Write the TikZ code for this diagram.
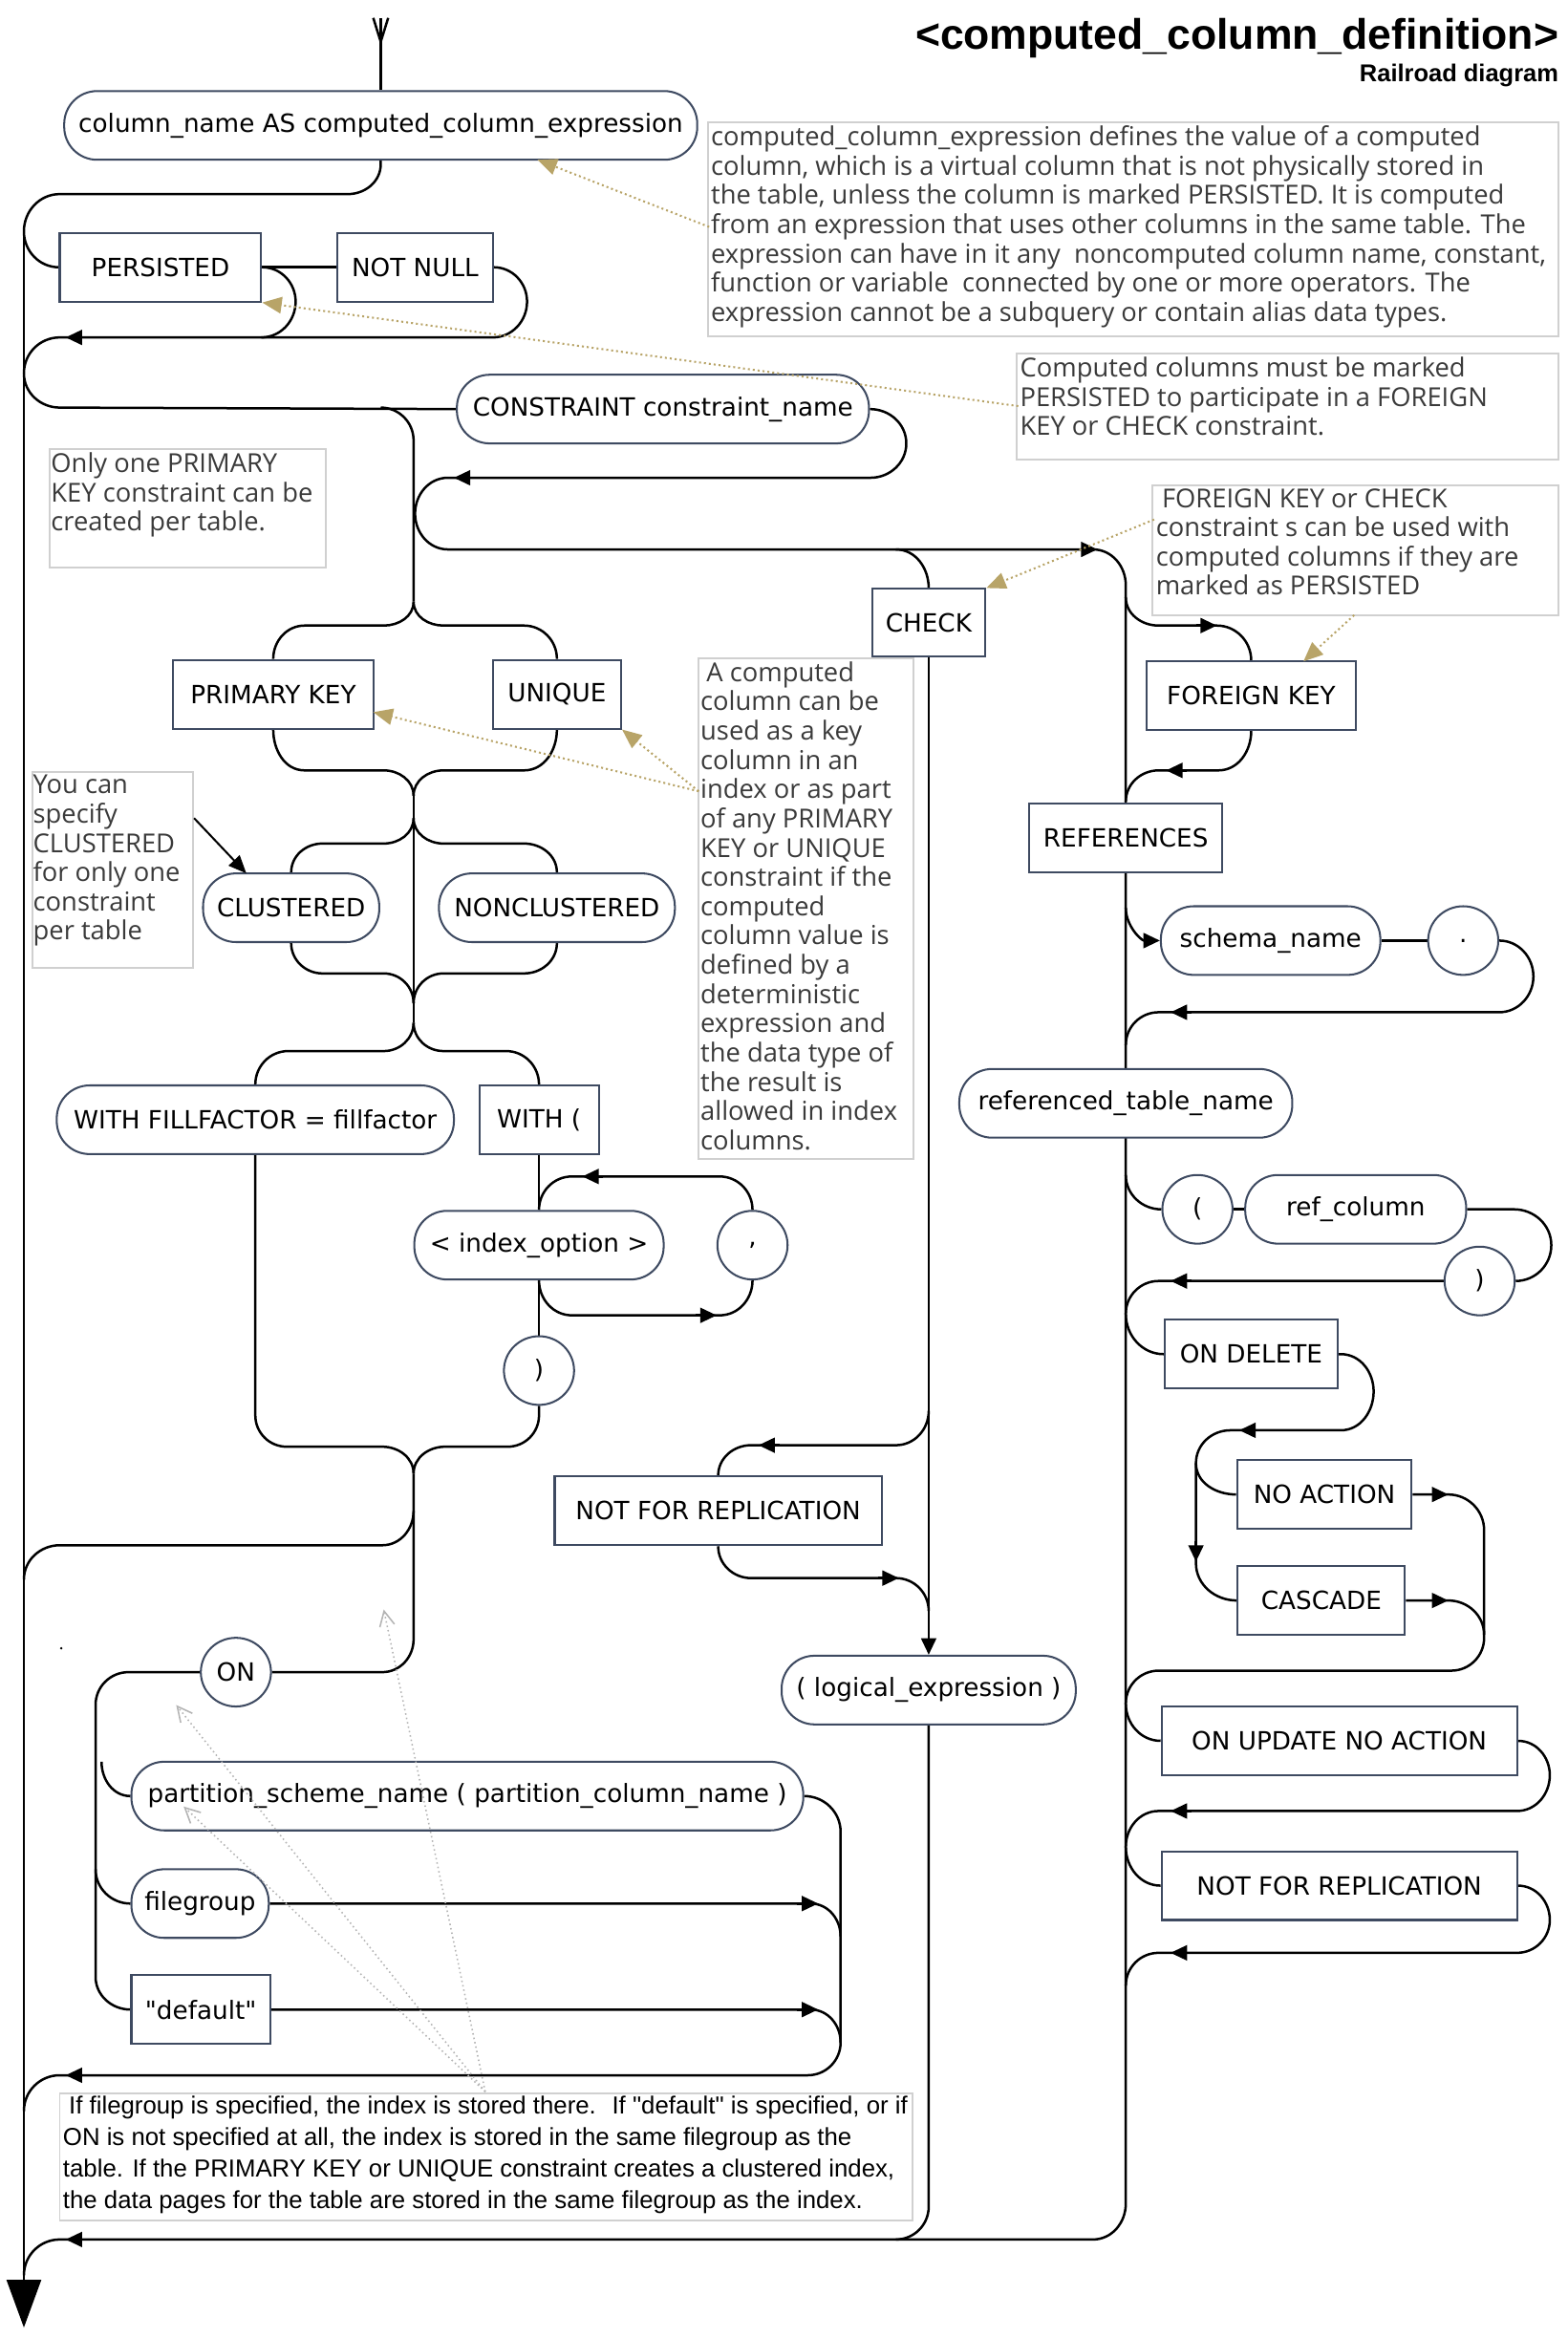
\documentclass[tikz,border=0pt]{standalone}
\usepackage{fontspec}
\usetikzlibrary{arrows.meta,shapes.geometric}
\newfontfamily\nodefont{DejaVu Sans}
\newfontfamily\cmtfont{Open Sans}
\newfontfamily\notefont{Liberation Sans}
\newfontfamily\ttlfont{Liberation Sans}
\definecolor{nodeborder}{HTML}{3E4A61}
\definecolor{annot}{HTML}{B8A468}
\definecolor{cmtborder}{HTML}{D0D0D0}
\definecolor{cmttext}{HTML}{3A3A3A}
\definecolor{gline}{HTML}{B4B4B4}
\pgfdeclarelayer{bg}
\pgfsetlayers{bg,main}
\tikzset{
 rr/.style={draw=black, line width=1.6pt},
 tipr/.style={-{Triangle[length=11pt,width=10pt]}},
 kw/.style={draw=nodeborder, line width=1.3pt, fill=white, rectangle, minimum height=46pt, inner sep=0pt, font=\nodefont\fontsize{16.8}{20}\selectfont},
 nt/.style={kw, rounded corners=22pt},
 ch/.style={kw, ellipse, minimum width=47pt},
 cbox/.style={draw=cmtborder, line width=1.2pt},
 ctext/.style={anchor=north west, inner sep=0pt, align=left, text=cmttext, font=\cmtfont\fontsize{17.5}{19.6}\selectfont},
 dotc/.style={draw=annot, line width=1.3pt, dotted, -{Triangle[length=13pt,width=11pt]}},
 gdot/.style={draw=gline, line width=1pt, dotted, -{Straight Barb[length=10pt,width=10pt]}},
}
\newcommand\arwL[2]{\draw[rr,tipr] ({#1+14},{#2}) -- ({#1},{#2});}
\newcommand\arwR[2]{\draw[rr,tipr] ({#1-14},{#2}) -- ({#1},{#2});}
\newcommand\arwD[2]{\draw[rr,tipr] ({#1},{#2-14}) -- ({#1},{#2});}
\begin{document}
\begin{tikzpicture}[x=1pt,y=-1pt]
\useasboundingbox (0,0) rectangle (1050,1566);

% title
\node[anchor=base east, inner sep=0pt, font=\ttlfont\bfseries\fontsize{28.5}{30}\selectfont] (ttl) at (1044,33) {<computed\_column\_definition>};
\node[anchor=base east, inner sep=0pt, font=\ttlfont\bfseries\fontsize{16.3}{18}\selectfont] (sub) at (1044,55) {Railroad diagram};

% nodes
\node[nt, minimum width=424pt] (n1) at (255,84) {column\_name AS computed\_column\_expression};
\node[kw, minimum width=135pt] (pers) at (107.5,179) {PERSISTED};
\node[kw, minimum width=104pt] (nn) at (278,179) {NOT NULL};
\node[nt, minimum width=276pt] (cons) at (444,274) {CONSTRAINT constraint\_name};
\node[kw, minimum width=134pt] (pk) at (183,465) {PRIMARY KEY};
\node[kw, minimum width=86pt] (uq) at (373,465) {UNIQUE};
\node[nt, minimum width=118pt] (cl) at (195,608) {CLUSTERED};
\node[nt, minimum width=158pt] (ncl) at (373,608) {NONCLUSTERED};
\node[nt, minimum width=266pt] (wff) at (171,750) {WITH FILLFACTOR = fillfactor};
\node[kw, minimum width=80pt] (wo) at (361,750) {WITH (};
\node[nt, minimum width=167pt] (idx) at (361,834) {< index\_option >};
\node[ch] (comma) at (504,834) {,};
\node[ch] (rp) at (361,918) {)};
\node[kw, minimum width=76pt, minimum height=45pt] (chk) at (622,417) {CHECK};
\node[kw, minimum width=219pt] (nfr1) at (481,1012) {NOT FOR REPLICATION};
\node[nt, minimum width=197pt] (lexp) at (622,1132) {( logical\_expression )};
\node[kw, minimum width=140pt] (fk) at (838,466) {FOREIGN KEY};
\node[kw, minimum width=129pt] (refs) at (754,561) {REFERENCES};
\node[nt, minimum width=147pt] (sch) at (851,630) {schema\_name};
\node[ch] (dot) at (980,630) {.};
\node[nt, minimum width=223pt] (rtn) at (754,739) {referenced\_table\_name};
\node[ch] (lp) at (802,810) {(};
\node[nt, minimum width=148pt] (rc) at (908,810) {ref\_column};
\node[ch] (rp2) at (991,858) {)};
\node[kw, minimum width=116pt] (odel) at (838,907) {ON DELETE};
\node[kw, minimum width=117pt] (noa) at (887,1001) {NO ACTION};
\node[kw, minimum width=112pt] (cas) at (885,1072) {CASCADE};
\node[kw, minimum width=238pt] (oupd) at (897,1166) {ON UPDATE NO ACTION};
\node[kw, minimum width=238pt] (nfr2) at (897,1263) {NOT FOR REPLICATION};
\node[ch] (on) at (158,1120) {ON};
\node[nt, minimum width=450pt] (psn) at (313,1203) {partition\_scheme\_name ( partition\_column\_name )};
\node[nt, minimum width=92pt] (fg) at (134,1275) {filegroup};
\node[kw, minimum width=93pt] (dflt) at (134.5,1346) {"default"};

\begin{pgfonlayer}{bg}
% start
\draw[rr] (250,12) -- (255,28) -- (260,12);
\draw[rr] (255,12) -- (n1.north);
\coordinate (L0) at (16,155);
\draw[rr,-{Triangle[length=32pt,width=23pt]}] (L0) -- (16,1559);
\draw[rr] (n1.south) -- (255,110) to[out=-90,in=0] (233,130) -- (40,130) to[out=180,in=90] (L0) to[out=-90,in=180] (pers.west);
\draw[rr] (pers.east) -- (nn.west);
\draw[rr] (pers.east) to[out=0,in=90] (198,202) to[out=-90,in=0] (175,226);
\draw[rr] (nn.east) to[out=0,in=90] (353,202) to[out=-90,in=0] (330,226) -- (40,226) to[out=180,in=90] (16,250) to[out=-90,in=180] (40,273) -- (cons.west);
\arwL{44}{226}
% constraint
\draw[rr] (255,273) to[out=0,in=90] (277,295) -- (277,403);
\draw[rr] (cons.east) to[out=0,in=90] (607,297) to[out=-90,in=0] (583,320) -- (300,320) to[out=180,in=90] (278,344) to[out=-90,in=180] (300,368) -- (732,368) to[out=0,in=90] (754,392) -- (754,1476) to[out=-90,in=0] (732,1500) -- (40,1500) to[out=180,in=90] (16,1524);
\arwL{304}{320}
\arwR{735}{368}
\arwL{44}{1500}
% PK / UNIQUE
\draw[rr] (277,403) to[out=-90,in=0] (257,419) -- (204,419) to[out=180,in=90] (pk.north);
\draw[rr] (277,403) to[out=-90,in=180] (297,419) -- (351,419) to[out=0,in=90] (uq.north);
\draw[rr] (pk.south) to[out=-90,in=180] (204,516) -- (257,516) to[out=0,in=90] (277,533);
\draw[rr] (uq.south) to[out=-90,in=0] (351,516) -- (297,516) to[out=180,in=90] (277,533);
\draw[rr] (277,533) -- (277,685);
% CLUSTERED
\draw[rr] (277,548) to[out=-90,in=0] (257,565) -- (216,565) to[out=180,in=90] (cl.north);
\draw[rr] (277,548) to[out=-90,in=180] (297,565) -- (351,565) to[out=0,in=90] (ncl.north);
\draw[rr] (cl.south) to[out=-90,in=180] (216,652) -- (257,652) to[out=0,in=90] (277,672);
\draw[rr] (ncl.south) to[out=-90,in=0] (351,652) -- (297,652) to[out=180,in=90] (277,672);
% WITH
\draw[rr] (277,685) to[out=-90,in=0] (257,704) -- (193,704) to[out=180,in=90] (wff.north);
\draw[rr] (277,685) to[out=-90,in=180] (297,704) -- (339,704) to[out=0,in=90] (wo.north);
\draw[rr] (wo.south) -- (idx.north);
\draw[rr] (comma.north) to[out=90,in=0] (482,788) -- (383,788) to[out=180,in=90] (idx.north);
\arwL{390}{788}
\draw[rr] (idx.south) to[out=-90,in=180] (383,881) -- (482,881) to[out=0,in=-90] (comma.south);
\arwR{480}{881}
\draw[rr] (idx.south) -- (rp.north);
\draw[rr] (rp.south) -- (361,948) to[out=-90,in=0] (340,969) -- (298,969) to[out=180,in=90] (277,987);
\draw[rr] (wff.south) -- (171,948) to[out=-90,in=180] (192,969) -- (256,969) to[out=0,in=90] (277,987);
\draw[rr] (277,987) -- (277,1098) to[out=-90,in=0] (256,1120) -- (on.east);
\draw[rr] (277,1012) to[out=-90,in=0] (256,1035) -- (40,1035) to[out=180,in=90] (16,1058);
% ON
\draw[rr] (on.west) -- (86,1120) to[out=180,in=90] (64,1142) -- (64,1324) to[out=-90,in=180] (dflt.west);
\draw[rr] (68,1180) to[out=-90,in=180] (psn.west);
\draw[rr] (64,1252) to[out=-90,in=180] (fg.west);
\draw[rr] (psn.east) to[out=0,in=90] (563,1227) -- (563,1368) to[out=-90,in=0] (541,1390) -- (40,1390) to[out=180,in=90] (16,1414);
\arwL{44}{1390}
\draw[rr] (fg.east) -- (543,1275) to[out=0,in=90] (563,1297);
\arwR{548}{1275}
\draw[rr] (dflt.east) -- (543,1346) to[out=0,in=90] (563,1368);
\arwR{548}{1346}
% CHECK
\draw[rr] (600,368) to[out=0,in=90] (chk.north);
\draw[rr,tipr] (chk.south) -- (lexp.north);
\draw[rr] (622,945) to[out=-90,in=0] (600,968) -- (503,968) to[out=180,in=90] (nfr1.north);
\arwL{508}{968}
\draw[rr] (nfr1.south) to[out=-90,in=180] (503,1057) -- (600,1057) to[out=0,in=90] (622,1079);
\arwR{602}{1057}
\draw[rr] (lexp.south) -- (622,1478) to[out=-90,in=0] (600,1500);
% FOREIGN KEY column
\draw[rr] (754,400) to[out=-90,in=180] (776,419) -- (815,419) to[out=0,in=90] (fk.north);
\arwR{815}{419}
\draw[rr] (fk.south) to[out=-90,in=0] (816,516) -- (776,516) to[out=180,in=90] (754,537);
\arwL{781}{516}
\draw[rr,tipr] (754,608) to[out=-90,in=180] (sch.west);
\draw[rr] (sch.east) -- (dot.west);
\draw[rr] (dot.east) to[out=0,in=90] (1027,654) to[out=-90,in=0] (1004,678) -- (776,678) to[out=180,in=90] (754,700);
\arwL{784}{678}
\draw[rr] (754,787) to[out=-90,in=180] (lp.west);
\draw[rr] (lp.east) -- (rc.west);
\draw[rr] (rc.east) -- (1014,810) to[out=0,in=90] (1039,834) to[out=-90,in=0] (rp2.east);
\draw[rr] (rp2.west) -- (776,858) to[out=180,in=90] (754,880) to[out=-90,in=180] (odel.west);
\arwL{784}{858}
\draw[rr] (odel.east) -- (898,907) to[out=0,in=90] (920,932) to[out=-90,in=0] (898,958) -- (824,958) to[out=180,in=90] (801,980) -- (801,1047) to[out=-90,in=180] (cas.west);
\arwL{830}{958}
\arwD{801}{1046}
\draw[rr] (801,980) to[out=-90,in=180] (noa.west);
\draw[rr] (noa.east) -- (970,1001) to[out=0,in=90] (994,1025) -- (994,1097) to[out=-90,in=0] (972,1119) -- (776,1119) to[out=180,in=90] (754,1141) to[out=-90,in=180] (oupd.west);
\arwR{970}{1001}
\draw[rr] (cas.east) -- (970,1072) to[out=0,in=90] (994,1095);
\arwR{970}{1072}
\draw[rr] (oupd.east) to[out=0,in=90] (1038,1189) to[out=-90,in=0] (1016,1213) -- (776,1213) to[out=180,in=90] (754,1237) to[out=-90,in=180] (nfr2.west);
\arwL{784}{1213}
\draw[rr] (nfr2.east) to[out=0,in=90] (1038,1286) to[out=-90,in=0] (1016,1308) -- (776,1308) to[out=180,in=90] (754,1330);
\arwL{784}{1308}
\end{pgfonlayer}

% comments
\draw[cbox] (474,82) rectangle (1044,225);
\node[ctext] (cA) at (476,84) {computed\_column\_expression defines the value of a computed\\column, which is a virtual column that is not physically stored in\\the table, unless the column is marked PERSISTED. It is computed\\from an expression that uses other columns in the same table. The\\expression can have in it any \ noncomputed column name, constant,\\function or variable \ connected by one or more operators. The\\expression cannot be a subquery or contain alias data types.};
\draw[cbox] (681,237) rectangle (1044,308);
\node[ctext] (cB) at (683,239) {Computed columns must be marked\\PERSISTED to participate in a FOREIGN\\KEY or CHECK constraint.};
\draw[cbox] (33,301) rectangle (218,380);
\node[ctext] (cC) at (34,303) {Only one PRIMARY\\KEY constraint can be\\created per table.};
\draw[cbox] (772,325) rectangle (1044,412);
\node[ctext] (cD) at (774,327) {\hspace*{4pt}FOREIGN KEY or CHECK\\constraint s can be used with\\computed columns if they are\\marked as PERSISTED};
\draw[cbox] (468,441) rectangle (612,776);
\node[ctext] (cE) at (469,443) {\hspace*{4pt}A computed\\column can be\\used as a key\\column in an\\index or as part\\of any PRIMARY\\KEY or UNIQUE\\constraint if the\\computed\\column value is\\defined by a\\deterministic\\expression and\\the data type of\\the result is\\allowed in index\\columns.};
\draw[cbox] (22,517) rectangle (129,648);
\node[ctext] (cF) at (22,519) {You can\\specify\\CLUSTERED\\for only one\\constraint\\per table};
\draw[cbox] (40,1402) rectangle (611,1487);
\node[anchor=north west, inner sep=0pt, align=left, font=\notefont\fontsize{16.5}{21}\selectfont] (cG) at (42,1404) {\hspace*{4pt}If filegroup is specified, the index is stored there. \ If "default" is specified, or if\\ON is not specified at all, the index is stored in the same filegroup as the\\table. If the PRIMARY KEY or UNIQUE constraint creates a clustered index,\\the data pages for the table are stored in the same filegroup as the index.};

% annotation connectors
\coordinate (pA) at (475,152);
\coordinate (tA) at (360,107);
\draw[dotc] (pA) -- (tA);
\coordinate (pB) at (682,272);
\draw[dotc] (pB) -- (pers.south east);
\coordinate (pD) at (773,348);
\draw[dotc] (pD) -- (chk.north east);
\coordinate (pD2) at (907,412);
\coordinate (tD2) at (873,443);
\draw[dotc] (pD2) -- (tD2);
\coordinate (pE) at (468,530);
\coordinate (tE1) at (250,477);
\draw[dotc] (pE) -- (tE1);
\draw[dotc] (pE) -- (uq.south east);
\coordinate (pF) at (130,548);
\coordinate (tF) at (165,585);
\draw[line width=1.3pt, -{Triangle[length=12pt,width=10pt]}] (pF) -- (tF);
\coordinate (pG) at (325,1401);
\coordinate (tG1) at (257,1078);
\coordinate (tG2) at (118,1142);
\coordinate (tG3) at (123,1210);
\draw[gdot] (pG) -- (tG1);
\draw[gdot] (pG) -- (tG2);
\draw[gdot] (pG) -- (tG3);
\fill (41,1104) circle (0.9);
\end{tikzpicture}
\end{document}
